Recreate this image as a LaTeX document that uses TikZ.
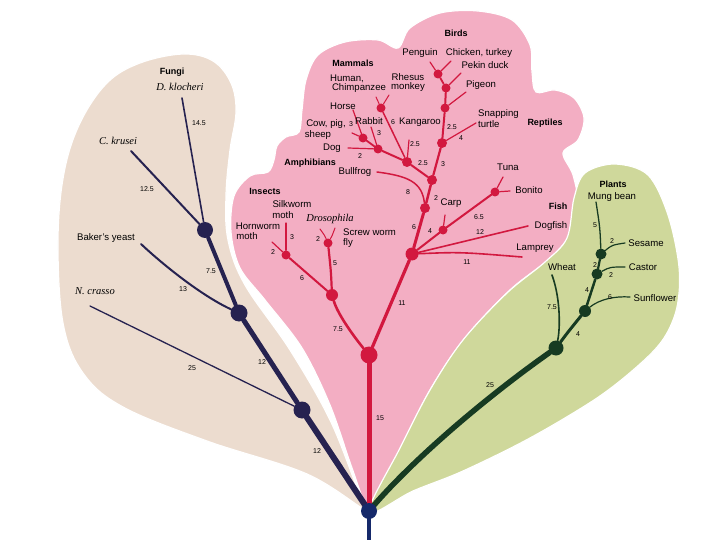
\documentclass[tikz,border=0pt]{standalone}
\usepackage{fontspec}
\setmainfont{Liberation Serif}
\setsansfont{Liberation Sans}
\definecolor{beigeb}{HTML}{ECDCCF}
\definecolor{pinkb}{HTML}{F3AEC3}
\definecolor{greenb}{HTML}{CFD89B}
\definecolor{navyt}{HTML}{262250}
\definecolor{crim}{HTML}{D2183F}
\definecolor{dgreen}{HTML}{173B22}
\definecolor{rootc}{HTML}{15296A}
\begin{document}
\begin{tikzpicture}[x=1pt,y=-1pt,
  lbl/.style={font=\sffamily\fontsize{9.6}{10.5}\selectfont, inner sep=0pt, align=left},
  num/.style={font=\sffamily\fontsize{7}{7.5}\selectfont, inner sep=0pt},
  grp/.style={font=\sffamily\bfseries\fontsize{9}{10}\selectfont, inner sep=0pt},
  ital/.style={font=\rmfamily\itshape\fontsize{10.5}{11}\selectfont, inner sep=0pt},
  fdot/.style={circle, fill=navyt, inner sep=0pt, minimum size=#1},
  pdot/.style={circle, fill=crim, inner sep=0pt, minimum size=#1},
  gdot/.style={circle, fill=dgreen, inner sep=0pt, minimum size=#1},
  blob/.style={draw=white, line width=1.2pt},
  fl/.style={draw=navyt, line cap=round, line width=#1},
  pl/.style={draw=crim, line cap=round, line width=#1},
  gl/.style={draw=dgreen, line cap=round, line width=#1}]
\useasboundingbox (0,0) rectangle (720,540);
% blobs
\fill[white] (0,0) rectangle (720,540);
\draw[blob, fill=beigeb] plot[smooth cycle, tension=0.6] coordinates {(369,512) (307,474) (207,441) (123,407) (83,373) (63,323) (58,240) (64,173) (80,123) (107,83) (140,63) (183,54) (213,61) (231,83) (236,112) (230,150) (226,195) (228,240) (245,285) (290,350) (330,420) (358,490)};
\draw[blob, fill=pinkb] plot[smooth cycle, tension=0.55] coordinates {(369,512) (352,468) (330,405) (302,348) (265,300) (240,268) (231,232) (234,196) (250,176) (268,172) (274,160) (277,146) (286,137) (299,132) (302,110) (306,80) (318,55) (345,42) (378,40) (398,48) (410,28) (440,13) (478,11) (512,20) (530,45) (532,72) (536,92) (555,90) (574,98) (584,118) (578,140) (563,153) (573,175) (578,205) (570,235) (548,260) (510,290) (465,338) (430,390) (400,450) (380,495)};
\draw[blob, fill=greenb] plot[smooth cycle, tension=0.55] coordinates {(369,512) (413,491) (463,471) (530,438) (597,398) (640,364) (664,338) (677,307) (679,267) (668,215) (648,175) (615,164) (585,173) (574,198) (567,238) (545,262) (507,293) (463,340) (430,390) (400,448)};

\coordinate (r0) at (369,511);
\coordinate (rb) at (369,540);
\draw[line width=4pt, rootc] (r0) -- (rb);

% ---------- Fungi ----------
\node[fdot=17pt] (f3) at (302,410) {};
\node[fdot=17pt] (f2) at (239,313) {};
\node[fdot=16pt] (f1) at (205,230) {};
\coordinate (dk) at (182,98);
\coordinate (ck) at (131,151);
\coordinate (by) at (141,244);
\coordinate (nc) at (90,306);
\draw[fl=6pt] (r0) -- (f3);
\draw[fl=5pt] (f3) -- (f2);
\draw[fl=4pt] (f2) -- (f1);
\draw[fl=1.6pt] (f1) -- (dk);
\draw[fl=2pt] (f1) -- (ck);
\draw[fl=2pt] (f2) .. controls (200,295) and (160,262) .. (by);
\draw[fl=1.3pt] (f3) -- (nc);

\node[grp] (tfungi) at (172,72) {Fungi};
\node[ital] (tdk) at (180,87) {D. klocheri};
\node[num] (n145) at (199,123) {14.5};
\node[ital] (tck) at (118,141) {C. krusei};
\node[num] (n125) at (147,189) {12.5};
\node[lbl] (tby) at (106,238) {Baker's yeast};
\node[num] (n75a) at (211,271) {7.5};
\node[num] (n13) at (183,289) {13};
\node[ital] (tnc) at (95,291) {N. crasso};
\node[num] (n25a) at (192,368) {25};
\node[num] (n12a) at (262,362) {12};
\node[num] (n12b) at (317,451) {12};

% ---------- Animals ----------
\node[pdot=17pt] (p0) at (369,355) {};
\node[pdot=12pt] (pi) at (332,295) {};
\node[pdot=9pt] (pis) at (286,255) {};
\node[pdot=9pt] (pid) at (328,243) {};
\node[pdot=13pt] (pf) at (412,254) {};
\node[pdot=10pt] (pf1) at (425,208) {};
\node[pdot=10pt] (pf2) at (432,180) {};
\node[pdot=9pt] (pc) at (443,230) {};
\node[pdot=9pt] (pb) at (495,192) {};
\node[pdot=10pt] (pm) at (407,162) {};
\node[pdot=9pt] (pm1) at (378,149) {};
\node[pdot=9pt] (pm2) at (363,138) {};
\node[pdot=9pt] (ph) at (381,108) {};
\node[pdot=10pt] (pr) at (442,143) {};
\node[pdot=9pt] (pb1) at (445,108) {};
\node[pdot=9pt] (pb2) at (446,88) {};
\node[pdot=9pt] (pb3) at (438,74) {};

\coordinate (esilk) at (286,223);
\coordinate (ehorn) at (272,242);
\coordinate (edro1) at (320,229);
\coordinate (edro2) at (335,228);
\coordinate (efrog) at (377,172);
\coordinate (ecarp) at (445,215);
\coordinate (ebon) at (510,191);
\coordinate (etuna) at (503,177);
\coordinate (edog) at (528,226);
\coordinate (elam) at (522,257);
\coordinate (ehorse) at (353,110);
\coordinate (ecow) at (352,133);
\coordinate (edogm) at (348,148);
\coordinate (erab) at (371,127);
\coordinate (ekang) at (409,140);
\coordinate (ehum) at (376,97);
\coordinate (erhe) at (389,95);
\coordinate (etur) at (476,123);
\coordinate (epig) at (466,92);
\coordinate (epek) at (461,73);
\coordinate (epen) at (430,62);
\coordinate (echi) at (451,61);

\draw[pl=5pt] (r0) -- (p0);
\draw[pl=2.6pt] (p0) .. controls (355,338) and (338,315) .. (pi);
\draw[pl=3.2pt] (p0) -- (pf);
\draw[pl=2pt] (pi) -- (pis);
\draw[pl=2.2pt] (pi) .. controls (331,272) .. (pid);
\draw[pl=1.2pt] (pis) -- (esilk);
\draw[pl=1.2pt] (pis) -- (ehorn);
\draw[pl=1pt] (pid) .. controls (325,236) .. (edro1);
\draw[pl=1pt] (pid) .. controls (332,236) .. (edro2);
\draw[pl=3pt] (pf) -- (pf1);
\draw[pl=2.5pt] (pf1) -- (pf2);
\draw[pl=1.5pt] (pf1) .. controls (422,182) and (408,176) .. (efrog);
\draw[pl=2pt] (pf) -- (pc);
\draw[pl=2pt] (pc) -- (pb);
\draw[pl=1.2pt] (pc) -- (ecarp);
\draw[pl=1.2pt] (pb) -- (ebon);
\draw[pl=1.2pt] (pb) -- (etuna);
\draw[pl=1.6pt] (pf) -- (edog);
\draw[pl=1.6pt] (pf) .. controls (460,252) .. (elam);
\draw[pl=2pt] (pf2) -- (pm);
\draw[pl=2.2pt] (pf2) -- (pr);
\draw[pl=2pt] (pm) -- (pm1);
\draw[pl=1.8pt] (pm1) -- (pm2);
\draw[pl=1.2pt] (pm2) -- (ehorse);
\draw[pl=1.2pt] (pm2) -- (ecow);
\draw[pl=1.2pt] (pm1) -- (edogm);
\draw[pl=1.2pt] (pm1) -- (erab);
\draw[pl=1.2pt] (pm) -- (ekang);
\draw[pl=1.5pt] (pm) -- (ph);
\draw[pl=1pt] (ph) -- (ehum);
\draw[pl=1pt] (ph) -- (erhe);
\draw[pl=1.2pt] (pr) -- (etur);
\draw[pl=2pt] (pr) -- (pb1);
\draw[pl=2pt] (pb1) -- (pb2);
\draw[pl=1.8pt] (pb2) -- (pb3);
\draw[pl=1.2pt] (pb1) -- (epig);
\draw[pl=1.2pt] (pb2) -- (epek);
\draw[pl=1.2pt] (pb3) -- (epen);
\draw[pl=1.2pt] (pb3) -- (echi);

\node[num] (n15) at (380,418) {15};
\node[num] (n11a) at (402,303) {11};
\node[num] (n75b) at (338,329) {7.5};
\node[grp] (tins) at (265,191) {Insects};
\node[lbl] (tsilk) at (292,204) {Silkworm};
\node[lbl] (tsilk2) at (283,215) {moth};
\node[lbl] (thorn) at (258,226) {Hornworm};
\node[lbl] (thorn2) at (247,236) {moth};
\node[ital] (tdro) at (330,219) {Drosophila};
\node[lbl, anchor=west] (tscr) at (343,232) {Screw worm};
\node[lbl, anchor=west] (tscr2) at (343,243) {fly};
\node[num] (n3i) at (292,237) {3};
\node[num] (n2i) at (318,239) {2};
\node[num] (n2h) at (273,252) {2};
\node[num] (n5i) at (335,263) {5};
\node[num] (n6i) at (302,278) {6};

\node[grp] (tfish) at (558,206) {Fish};
\node[lbl] (ttuna) at (508,167) {Tuna};
\node[lbl] (tbon) at (529,190) {Bonito};
\node[lbl] (tcarp) at (451,203) {Carp};
\node[num] (n2c) at (436,198) {2};
\node[num] (n65) at (479,217) {6.5};
\node[num] (n4c) at (430,231) {4};
\node[num] (n6f) at (414,227) {6};
\node[lbl] (tdogf) at (551,226) {Dogfish};
\node[num] (n12f) at (480,232) {12};
\node[lbl] (tlam) at (535,248) {Lamprey};
\node[num] (n11f) at (467,262) {11};
\node[num] (n8) at (408,192) {8};
\node[lbl] (tfrog) at (355,172) {Bullfrog};
\node[grp] (tamph) at (310,163) {Amphibians};

\node[num] (n25m) at (423,163) {2.5};
\node[num] (n3r) at (443,164) {3};
\node[grp] (tmam) at (353,63) {Mammals};
\node[lbl] (thum) at (347,79) {Human,};
\node[lbl] (thum2) at (359,88) {Chimpanzee};
\node[lbl] (trhe) at (408,77) {Rhesus};
\node[lbl] (trhe2) at (408,87) {monkey};
\node[lbl] (thorse) at (343,106) {Horse};
\node[lbl] (tcow) at (326,124) {Cow, pig,};
\node[lbl] (tcow2) at (318,135) {sheep};
\node[num] (n3cow) at (351,124) {3};
\node[lbl] (trab) at (369,121) {Rabbit};
\node[num] (n3rab) at (379,133) {3};
\node[num] (n6k) at (393,122) {6};
\node[lbl] (tkang) at (420,122) {Kangaroo};
\node[num] (n25k) at (415,144) {2.5};
\node[lbl] (tdogm) at (332,148) {Dog};
\node[num] (n2d) at (360,156) {2};

\node[lbl, anchor=west] (ttur) at (478,114) {Snapping};
\node[lbl, anchor=west] (ttur2) at (478,124) {turtle};
\node[num] (n25t) at (452,127) {2.5};
\node[num] (n4t) at (461,138) {4};
\node[grp] (trep) at (545,123) {Reptiles};
\node[grp] (tbird) at (456,33) {Birds};
\node[lbl] (tpen) at (420,53) {Penguin};
\node[lbl] (tchi) at (479,53) {Chicken, turkey};
\node[lbl] (tpek) at (485,65) {Pekin duck};
\node[lbl] (tpig) at (481,85) {Pigeon};

% ---------- Plants ----------
\node[gdot=15pt] (g1) at (556,348) {};
\node[gdot=12pt] (g2) at (585,311) {};
\node[gdot=11pt] (g3) at (597,274) {};
\node[gdot=11pt] (g4) at (601,254) {};
\coordinate (emung) at (596,202);
\coordinate (eses) at (625,243);
\coordinate (ecas) at (625,267);
\coordinate (esun) at (630,297);
\coordinate (ewhe) at (552,275);
\draw[gl=5.5pt] (r0) .. controls (410,462) and (485,398) .. (g1);
\draw[gl=3pt] (g1) .. controls (568,332) .. (g2);
\draw[gl=2.5pt] (g2) -- (g3);
\draw[gl=2.2pt] (g3) -- (g4);
\draw[gl=1.3pt] (g4) .. controls (600,228) .. (emung);
\draw[gl=1.2pt] (g4) .. controls (612,245) .. (eses);
\draw[gl=1.2pt] (g3) .. controls (610,267) .. (ecas);
\draw[gl=1.2pt] (g2) .. controls (600,299) and (615,296) .. (esun);
\draw[gl=1.6pt] (ewhe) .. controls (561,300) and (560,330) .. (g1);

\node[grp] (tplant) at (613,184) {Plants};
\node[lbl] (tmung) at (612,197) {Mung bean};
\node[lbl] (tses) at (646,243) {Sesame};
\node[lbl] (tcas) at (643,267) {Castor};
\node[lbl] (tsun) at (655,298) {Sunflower};
\node[lbl] (twhe) at (562,267) {Wheat};
\node[num] (n5p) at (595,225) {5};
\node[num] (n2s) at (612,241) {2};
\node[num] (n2c1) at (595,265) {2};
\node[num] (n2c2) at (611,275) {2};
\node[num] (n4p) at (587,290) {4};
\node[num] (n6p) at (610,297) {6};
\node[num] (n75p) at (552,307) {7.5};
\node[num] (n4q) at (578,334) {4};
\node[num] (n25p) at (490,385) {25};

% root dot on top
\node[circle, fill=rootc, inner sep=0pt, minimum size=16pt] (root) at (r0) {};
\end{tikzpicture}
\end{document}
